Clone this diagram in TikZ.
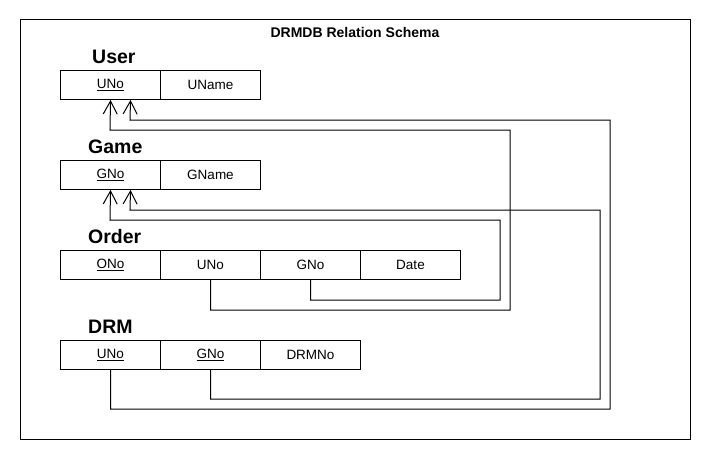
\documentclass[tikz,border=0pt]{standalone}
\usepackage{fontspec}
\setmainfont{Liberation Sans}
\usetikzlibrary{arrows.meta}
\begin{document}
\begin{tikzpicture}[x=1pt,y=-1pt,
  cell/.style={draw,line width=1pt,minimum width=100pt,minimum height=29pt,inner sep=0pt,anchor=north west,font=\fontsize{13.5}{15}\selectfont},
  tname/.style={anchor=base west,inner sep=0pt,font=\fontsize{19.5}{22}\selectfont\bfseries},
  fk/.style={line width=1pt,-{Straight Barb[length=13pt,width=14pt]}}]
\useasboundingbox (0,0) rectangle (710,460);
\draw[line width=1pt] (20,20) rectangle (690,439);
\node[font=\fontsize{14}{16}\selectfont\bfseries] (title) at (355,32) {DRMDB Relation Schema};
% User
\node[tname] (tu) at (92,64) {User};
\node[cell] (u1) at (60,70) {\underline{UNo}};
\node[cell] (u2) at (160,70) {UName};
% Game
\node[tname] (tg) at (88,153) {Game};
\node[cell] (g1) at (60,160) {\underline{GNo}};
\node[cell] (g2) at (160,160) {GName};
% Order
\node[tname] (to) at (88,243) {Order};
\node[cell] (o1) at (60,250) {\underline{ONo}};
\node[cell] (o2) at (160,250) {UNo};
\node[cell] (o3) at (260,250) {GNo};
\node[cell] (o4) at (360,250) {Date};
% DRM
\node[tname] (td) at (88,333) {DRM};
\node[cell] (d1) at (60,340) {\underline{UNo}};
\node[cell] (d2) at (160,340) {\underline{GNo}};
\node[cell] (d3) at (260,340) {DRMNo};
% foreign keys
\draw[fk] (o2.south) |- (510,310) |- (110,130) -- (u1.south);
\draw[fk] (d1.south) |- (610,409) |- (130,120) -- ([xshift=20pt]u1.south);
\draw[fk] (o3.south) |- (500,300) |- (110,220) -- (g1.south);
\draw[fk] (d2.south) |- (600,399) |- (130,210) -- ([xshift=20pt]g1.south);
\end{tikzpicture}
\end{document}
